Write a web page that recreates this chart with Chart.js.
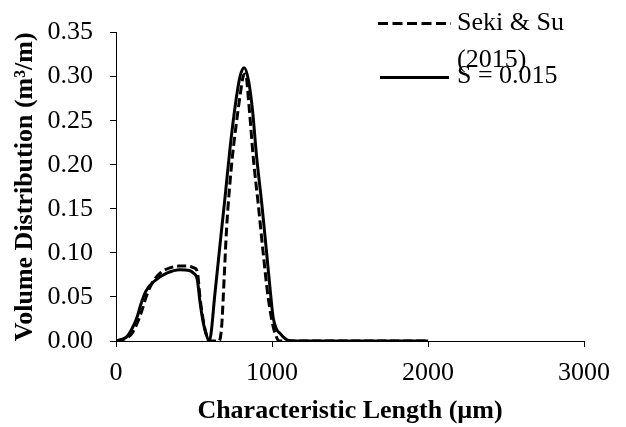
<!DOCTYPE html>
<html>
<head>
<meta charset="utf-8">
<script src="https://cdn.jsdelivr.net/npm/chart.js@4/dist/chart.umd.min.js"></script>
<style>
  html, body { margin: 0; padding: 0; background: #fff; }
  #wrap { position: relative; width: 626px; height: 427px; }
  canvas { position: absolute; left: 0; top: 0; }
  .lg { position: absolute; font-family: "Liberation Serif", "Times New Roman", serif; font-size: 26px; line-height: 26px; color: #000; white-space: nowrap; }
  svg { position: absolute; left: 0; top: 0; }
</style>
</head>
<body>
<div id="wrap">
  <canvas id="c" width="626" height="427"></canvas>
  <svg width="626" height="100">
    <line x1="378" y1="23.5" x2="451" y2="23.5" stroke="#000" stroke-width="3" stroke-dasharray="10,4.5"></line>
    <line x1="380" y1="77.5" x2="449" y2="77.5" stroke="#000" stroke-width="3"></line>
  </svg>
  <div class="lg" style="left:457px; top:9px;">Seki &amp; Su</div>
  <div class="lg" style="left:457px; top:46px;">(2015)</div>
  <div class="lg" style="left:457px; top:62px;">S = 0.015</div>
</div>
<script>
// Data
const sekiX = [0, 50, 100, 133, 165, 197, 239, 290, 346, 400, 453, 500, 521, 538, 555, 575, 598, 660, 677, 694, 709, 741, 770, 795, 815, 830, 855, 880, 912, 944, 975, 1008, 1030, 1045, 2000];
const sekiY = [0, 0.002, 0.008, 0.019, 0.034, 0.052, 0.068, 0.078, 0.083, 0.085, 0.085, 0.083, 0.079, 0.050, 0.028, 0.010, 0, 0, 0.016, 0.074, 0.128, 0.200, 0.245, 0.278, 0.300, 0.303, 0.262, 0.208, 0.155, 0.099, 0.050, 0.016, 0.004, 0, 0];

const simX = [0, 40, 70, 100, 133, 160, 190, 239, 325, 410, 470, 496, 521, 538, 555, 571, 598, 635, 667, 700, 731, 765, 795, 822, 850, 875, 902, 935, 966, 990, 1008, 1030, 1051, 1075, 1100, 1150, 2000];
const simY = [0, 0.002, 0.005, 0.013, 0.026, 0.042, 0.056, 0.067, 0.077, 0.081, 0.080, 0.077, 0.070, 0.045, 0.025, 0.012, 0, 0.055, 0.110, 0.165, 0.219, 0.268, 0.300, 0.310, 0.295, 0.262, 0.208, 0.155, 0.099, 0.055, 0.026, 0.013, 0.0087, 0.004, 0.001, 0, 0];

const seriesNames = ["Seki & Su (2015)", "S = 0.015"];
const xTitle = "Characteristic Length (µm)";
const yTitle = "Volume Distribution (m³/m)";
const xMin = 0, xMax = 3000, xStep = 1000;
const yMin = 0, yMax = 0.35, yStep = 0.05;

const toPts = (xs, ys) => xs.map((x, i) => ({ x: x, y: ys[i] }));

const FONT = "'Liberation Serif', 'Times New Roman', serif";

new Chart(document.getElementById('c'), {
  type: 'line',
  data: {
    datasets: [
      {
        label: seriesNames[0],
        data: toPts(sekiX, sekiY),
        borderColor: '#000',
        borderWidth: 3,
        borderDash: [9, 4],
        pointRadius: 0,
        fill: false,
        cubicInterpolationMode: 'monotone'
      },
      {
        label: seriesNames[1],
        data: toPts(simX, simY),
        borderColor: '#000',
        borderWidth: 3,
        pointRadius: 0,
        fill: false,
        cubicInterpolationMode: 'monotone'
      }
    ]
  },
  options: {
    responsive: false,
    animation: false,
    layout: { padding: { left: 0, right: 42, top: 20, bottom: 0 } },
    plugins: {
      legend: { display: false },
      tooltip: { enabled: false }
    },
    scales: {
      x: {
        type: 'linear',
        min: xMin, max: xMax,
        afterFit: (s) => { s.height = 86; },
        ticks: {
          stepSize: xStep,
          color: '#000',
          font: { family: FONT, size: 26 },
          padding: 11,
          maxRotation: 0,
          callback: (v) => String(v)
        },
        grid: { display: true, drawOnChartArea: false, tickLength: 6, color: '#000', lineWidth: 1 },
        border: { display: true, color: '#000', width: 1 },
        title: {
          display: true, text: xTitle, color: '#000',
          font: { family: FONT, size: 26, weight: 'bold' },
          padding: { top: 0, bottom: 0 }
        }
      },
      y: {
        type: 'linear',
        min: yMin, max: yMax,
        afterFit: (s) => { s.width = 116; },
        ticks: {
          stepSize: yStep,
          color: '#000',
          font: { family: FONT, size: 26 },
          padding: 17,
          callback: (v) => Number(v).toFixed(2)
        },
        grid: { display: true, drawOnChartArea: false, tickLength: 6, color: '#000', lineWidth: 1 },
        border: { display: true, color: '#000', width: 1 },
        title: {
          display: true, text: yTitle, color: '#000',
          font: { family: FONT, size: 26, weight: 'bold' },
          padding: { top: 10, bottom: 0 }
        }
      }
    }
  }
});
</script>
</body>
</html>
